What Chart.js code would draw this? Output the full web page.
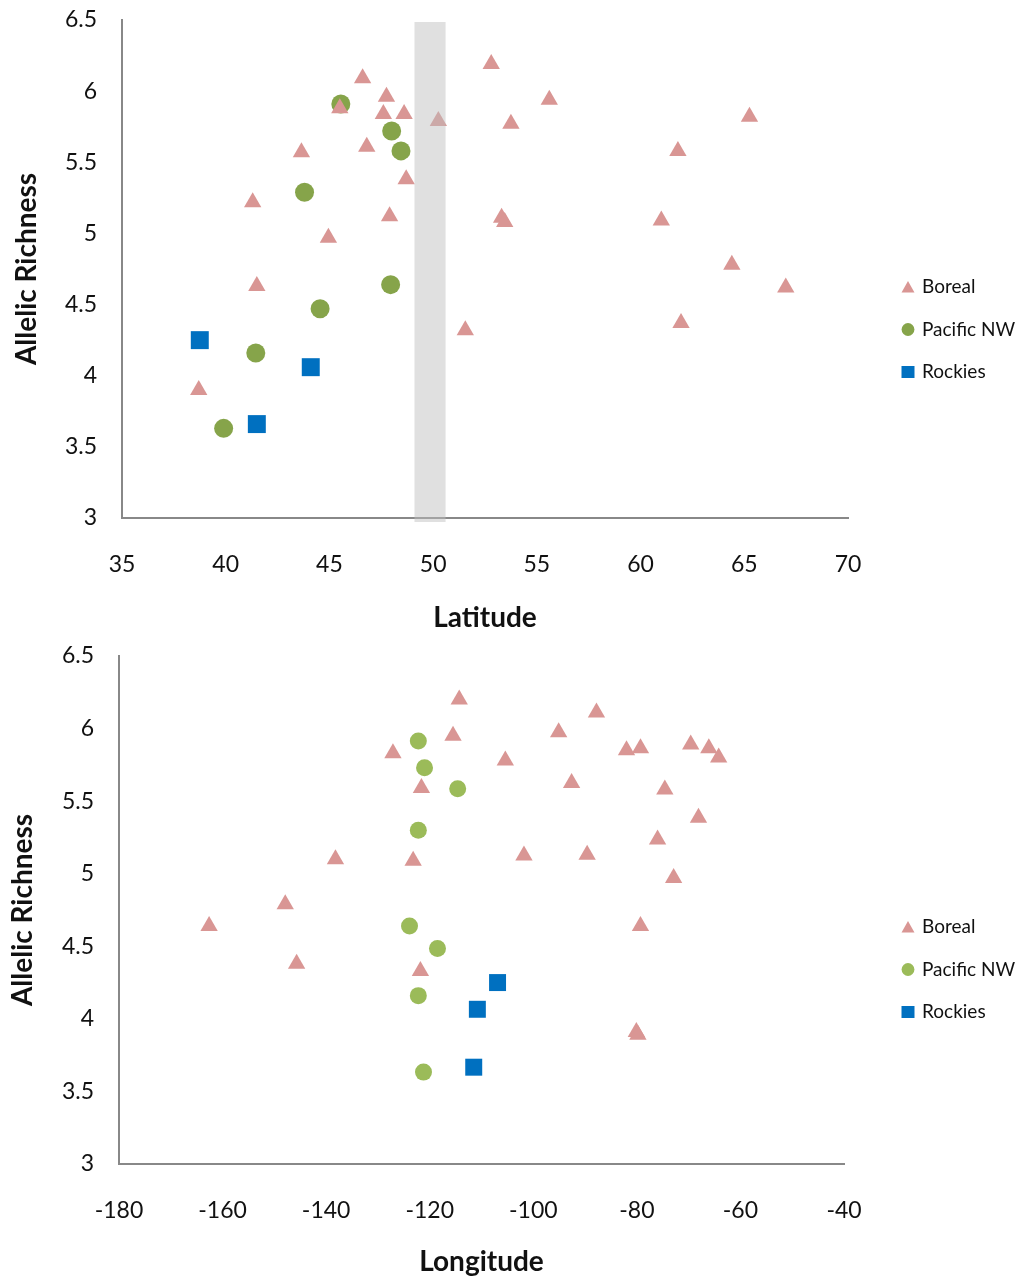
<!DOCTYPE html>
<html>
<head>
<meta charset="utf-8">
<script src="https://cdn.jsdelivr.net/npm/chart.js@4.4.1/dist/chart.umd.min.js"></script>
<style>
  html, body { margin: 0; padding: 0; background: #fff; overflow: hidden; }
  .wrap { position: absolute; left: 0; width: 1025px; }
  #topWrap { top: 0; height: 640px; }
  #bottomWrap { top: 639px; height: 640px; }
</style>
</head>
<body>
<div class="wrap" id="topWrap"><canvas id="latChart"></canvas></div>
<div class="wrap" id="bottomWrap"><canvas id="lonChart"></canvas></div>
<script>
// --- data: latitude panel ---
const borealLat = [46.6, 47.75, 45.5, 47.6, 48.6, 50.25, 46.8, 43.65, 48.7, 41.3, 47.9, 44.95, 41.5,
  52.8, 55.6, 65.25, 53.75, 61.8, 53.3, 53.45, 61.0, 64.4, 67.0, 61.95, 51.55, 38.7];
const borealLatAR = [6.09, 5.96, 5.88, 5.84, 5.84, 5.79, 5.61, 5.57, 5.38, 5.22, 5.12, 4.97, 4.63,
  6.19, 5.94, 5.82, 5.77, 5.58, 5.11, 5.08, 5.09, 4.78, 4.62, 4.37, 4.32, 3.9];
const pacificLat = [45.55, 48.0, 48.45, 43.8, 47.95, 44.55, 41.45, 39.9];
const pacificLatAR = [5.91, 5.72, 5.58, 5.29, 4.64, 4.47, 4.16, 3.63];
const rockiesLat = [38.75, 44.1, 41.5];
const rockiesLatAR = [4.25, 4.06, 3.66];
const bandLat = [49.1, 50.6]; // shaded latitude band

// --- data: longitude panel ---
const borealLon = [-114.3, -115.5, -127.1, -105.4, -121.6, -138.2, -123.2, -147.9, -162.6, -87.8,
  -95.1, -82.0, -79.3, -69.6, -66.1, -64.2, -92.6, -74.6, -68.1, -76.0, -101.8, -89.6, -72.9,
  -79.3, -145.7, -121.8, -80.1, -79.8];
const borealLonAR = [6.2, 5.95, 5.83, 5.78, 5.59, 5.10, 5.09, 4.79, 4.64, 6.11,
  5.975, 5.85, 5.865, 5.89, 5.865, 5.80, 5.625, 5.58, 5.385, 5.235, 5.125, 5.13, 4.97,
  4.64, 4.38, 4.33, 3.91, 3.89];
const pacificLon = [-122.2, -121.0, -114.6, -122.2, -123.9, -118.5, -122.2, -121.2];
const pacificLonAR = [5.915, 5.73, 5.585, 5.30, 4.64, 4.485, 4.16, 3.633];
const rockiesLon = [-106.9, -110.8, -111.5];
const rockiesLonAR = [4.25, 4.066, 3.667];

const seriesNames = ['Boreal', 'Pacific NW', 'Rockies'];

Chart.defaults.font.family = 'Lato, "Open Sans", sans-serif';
Chart.defaults.color = '#111';

const toPoints = (xs, ys) => xs.map((x, i) => ({ x: x, y: ys[i] }));

// side legend drawn next to the plot (Excel style)
const sideLegend = {
  id: 'sideLegend',
  afterDraw(chart, args, opts) {
    const ctx = chart.ctx;
    ctx.save();
    chart.data.datasets.forEach((ds, i) => {
      const x = opts.x, y = opts.y + i * opts.gap;
      ctx.fillStyle = ds.backgroundColor;
      ctx.beginPath();
      if (ds.pointStyle === 'triangle') {
        ctx.moveTo(x, y - 6); ctx.lineTo(x + 6.5, y + 5.5); ctx.lineTo(x - 6.5, y + 5.5);
        ctx.closePath();
      } else if (ds.pointStyle === 'circle') {
        ctx.arc(x, y, 6.4, 0, Math.PI * 2);
      } else {
        ctx.rect(x - 6.5, y - 6, 13, 12);
      }
      ctx.fill();
      ctx.fillStyle = '#111';
      ctx.font = '19px Lato, "Open Sans", sans-serif';
      ctx.textBaseline = 'middle';
      ctx.fillText(ds.label, x + 14, y);
    });
    ctx.restore();
  }
};

// grey band over the latitude panel
const bandPlugin = {
  id: 'latBand',
  afterDatasetsDraw(chart) {
    const xs = chart.scales.x;
    const a = chart.chartArea;
    const x0 = xs.getPixelForValue(bandLat[0]);
    const x1 = xs.getPixelForValue(bandLat[1]);
    const ctx = chart.ctx;
    ctx.save();
    ctx.fillStyle = 'rgba(190,190,190,0.48)';
    ctx.fillRect(x0, a.top + 2, x1 - x0, a.bottom - a.top + 2);
    ctx.restore();
  }
};

function makeChart(id, cfg) {
  return new Chart(document.getElementById(id), {
    type: 'scatter',
    data: {
      datasets: [
        { label: seriesNames[0], data: cfg.boreal, pointStyle: 'triangle', pointRadius: 10,
          backgroundColor: '#D99694', borderWidth: 0 },
        { label: seriesNames[1], data: cfg.pacific, pointStyle: 'circle', pointRadius: cfg.circleR,
          backgroundColor: cfg.green, borderWidth: 0 },
        { label: seriesNames[2], data: cfg.rockies, pointStyle: 'rect', pointRadius: cfg.rectR,
          backgroundColor: '#0070C0', borderWidth: 0 }
      ]
    },
    plugins: cfg.plugins,
    options: {
      responsive: true,
      maintainAspectRatio: false,
      animation: false,
      events: [],
      layout: { autoPadding: false, padding: { top: cfg.padTop, right: cfg.padRight, bottom: cfg.padBottom, left: 0 } },
      plugins: {
        legend: { display: false },
        tooltip: { enabled: false },
        sideLegend: { x: 908, y: cfg.legendY, gap: 42.5 }
      },
      scales: {
        x: {
          type: 'linear',
          min: cfg.xMin, max: cfg.xMax,
          grid: { display: false, drawTicks: false },
          border: { display: true, color: '#888', width: 2 },
          ticks: { stepSize: cfg.xStep, padding: 33, font: { size: 23 } },
          title: { display: true, text: cfg.xTitle, font: { size: 28, weight: 'bold' }, padding: { top: 0, bottom: 0 } },
          afterFit(scale) { scale.height = cfg.xHeight; }
        },
        y: {
          type: 'linear',
          min: 3, max: 6.5,
          grid: { display: false, drawTicks: false },
          border: { display: true, color: '#888', width: 2 },
          ticks: { stepSize: 0.5, padding: 25, font: { size: 23 }, callback: v => String(v) },
          title: { display: true, text: 'Allelic Richness', font: { size: 28, weight: 'bold' }, padding: { top: cfg.yTitlePad, bottom: 0 } },
          afterFit(scale) {
            scale.width = cfg.yWidth;
            scale.paddingTop = 0;
            scale.paddingBottom = 0;
          }
        }
      }
    }
  });
}

makeChart('latChart', {
  boreal: toPoints(borealLat, borealLatAR),
  pacific: toPoints(pacificLat, pacificLatAR),
  rockies: toPoints(rockiesLat, rockiesLatAR),
  green: '#86A44A', circleR: 9.5, rectR: 12.7,
  xMin: 35, xMax: 70, xStep: 5, xTitle: 'Latitude',
  padTop: 20, padRight: 177, padBottom: 5, xHeight: 117, yWidth: 122, yTitlePad: 10,
  legendY: 287,
  plugins: [bandPlugin, sideLegend]
});

makeChart('lonChart', {
  boreal: toPoints(borealLon, borealLonAR),
  pacific: toPoints(pacificLon, pacificLonAR),
  rockies: toPoints(rockiesLon, rockiesLonAR),
  green: '#9BBB59', circleR: 8.5, rectR: 12,
  xMin: -180, xMax: -40, xStep: 20, xTitle: 'Longitude',
  padTop: 17, padRight: 181, padBottom: 0, xHeight: 115, yWidth: 119, yTitlePad: 6,
  legendY: 288,
  plugins: [sideLegend]
});
</script>
</body>
</html>
